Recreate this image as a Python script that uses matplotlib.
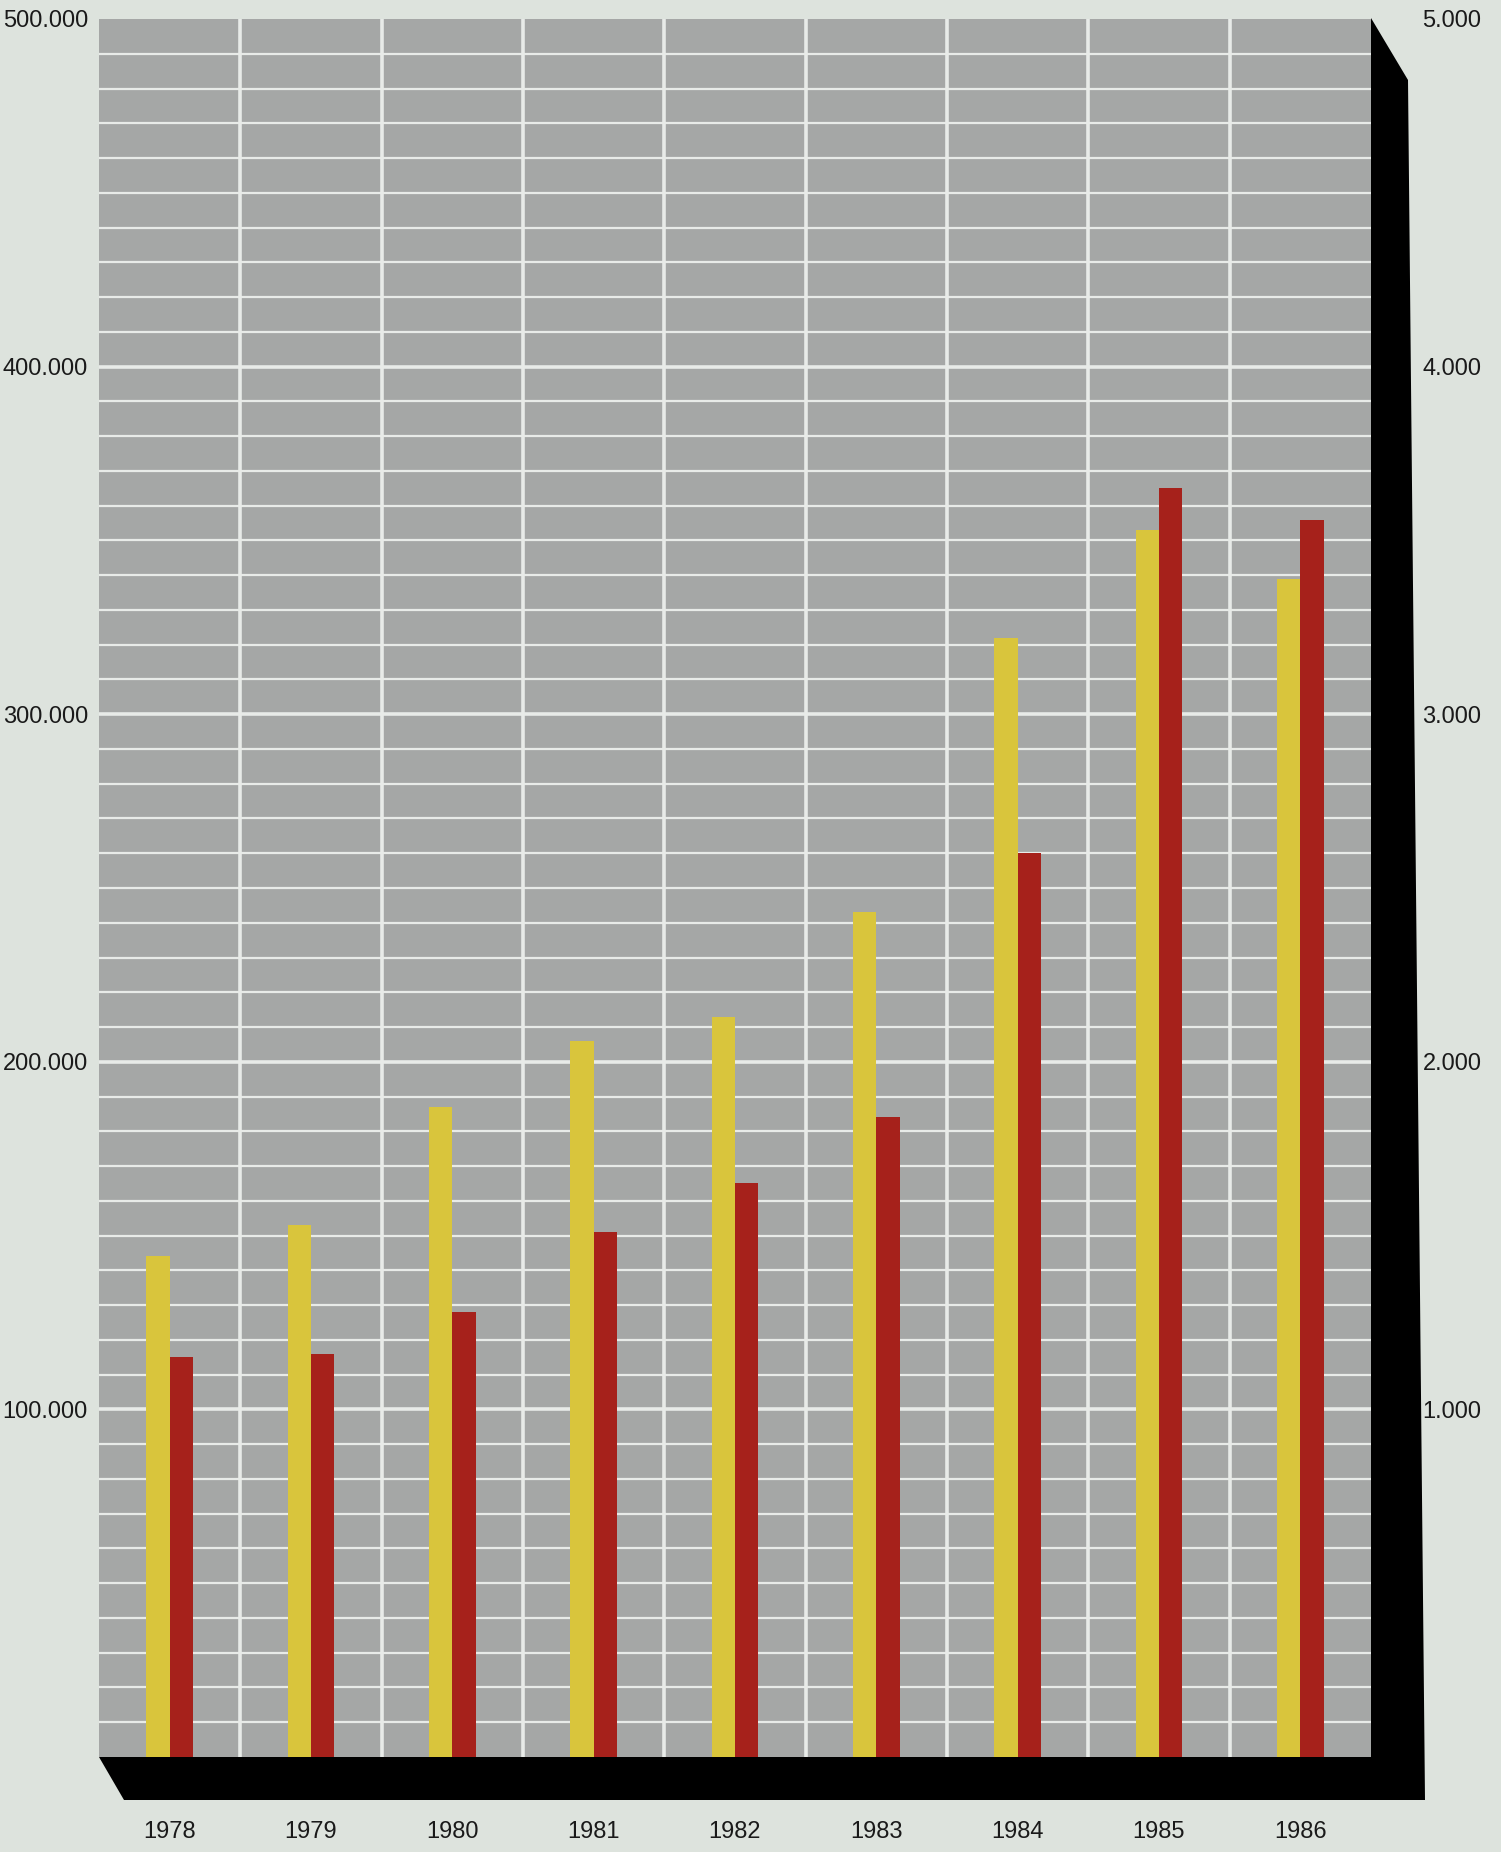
import matplotlib
matplotlib.use("Agg")
import matplotlib.pyplot as plt
from matplotlib.patches import Polygon
import numpy as np

# ---- data ----
years = ['1978', '1979', '1980', '1981', '1982', '1983', '1984', '1985', '1986']
yellow_vals = [144000, 153000, 187000, 206000, 213000, 243000, 322000, 353000, 339000]
red_vals = [115000, 116000, 128000, 151000, 165000, 184000, 260000, 365000, 356000]
left_ticks = [100000, 200000, 300000, 400000, 500000]
left_labels = ['100.000', '200.000', '300.000', '400.000', '500.000']
right_ticks = [1000, 2000, 3000, 4000, 5000]
right_labels = ['1.000', '2.000', '3.000', '4.000', '5.000']

# ---- style ----
PAGE = '#dde3dd'
PLOT = '#a5a7a6'
GRID = '#e8ebe8'
YELLOW = '#d9c53c'
RED = '#a6211b'
FONT = 'Liberation Sans'

W, H = 1501, 1852
fig = plt.figure(figsize=(W / 100, H / 100), dpi=100)
fig.patch.set_facecolor(PAGE)

# plot rectangle in pixels
L, R, T, B = 99, 1371, 19, 1757

# background axes for the 3D-like black shadow
bg = fig.add_axes([0, 0, 1, 1])
bg.set_xlim(0, W)
bg.set_ylim(H, 0)
bg.axis('off')
shadow = Polygon([(L, B), (R, B), (R, T - 1), (1408, 80), (1425, 1800), (124, 1800)],
                 closed=True, facecolor='black', edgecolor='none')
bg.add_patch(shadow)

ax = fig.add_axes([L / W, (H - B) / H, (R - L) / W, (B - T) / H])
ax.set_facecolor(PLOT)
ax.set_xlim(0, len(years))
ax.set_ylim(0, 500000)
for s in ax.spines.values():
    s.set_visible(False)

# grid
for v in range(10000, 500000, 10000):
    major = (v % 100000 == 0)
    ax.axhline(v, color=GRID, lw=2.6 if major else 1.6, zorder=1)
for i in range(1, len(years)):
    ax.axvline(i, color=GRID, lw=2.6, zorder=1)

x = np.arange(len(years)) + 0.5
bw = 0.165
ax.bar(x - bw / 2, yellow_vals, width=bw, color=YELLOW, zorder=3, linewidth=0)
ax.bar(x + bw / 2, red_vals, width=bw, color=RED, zorder=3, linewidth=0)

ax.set_yticks(left_ticks)
ax.set_yticklabels(left_labels, fontfamily=FONT, fontsize=17, color='#1a1a1a')
ax.set_xticks(x)
ax.set_xticklabels(years, fontfamily=FONT, fontsize=17, color='#1a1a1a')
ax.tick_params(axis='y', length=0, pad=8)
ax.tick_params(axis='x', length=0, pad=46)

ax2 = ax.twinx()
ax2.set_ylim(0, 5000)
ax2.set_yticks(right_ticks)
ax2.set_yticklabels(right_labels, fontfamily=FONT, fontsize=17, color='#1a1a1a')
ax2.tick_params(axis='y', length=0, pad=37)
for s in ax2.spines.values():
    s.set_visible(False)

fig.savefig('out.png', dpi=100, facecolor=PAGE)
